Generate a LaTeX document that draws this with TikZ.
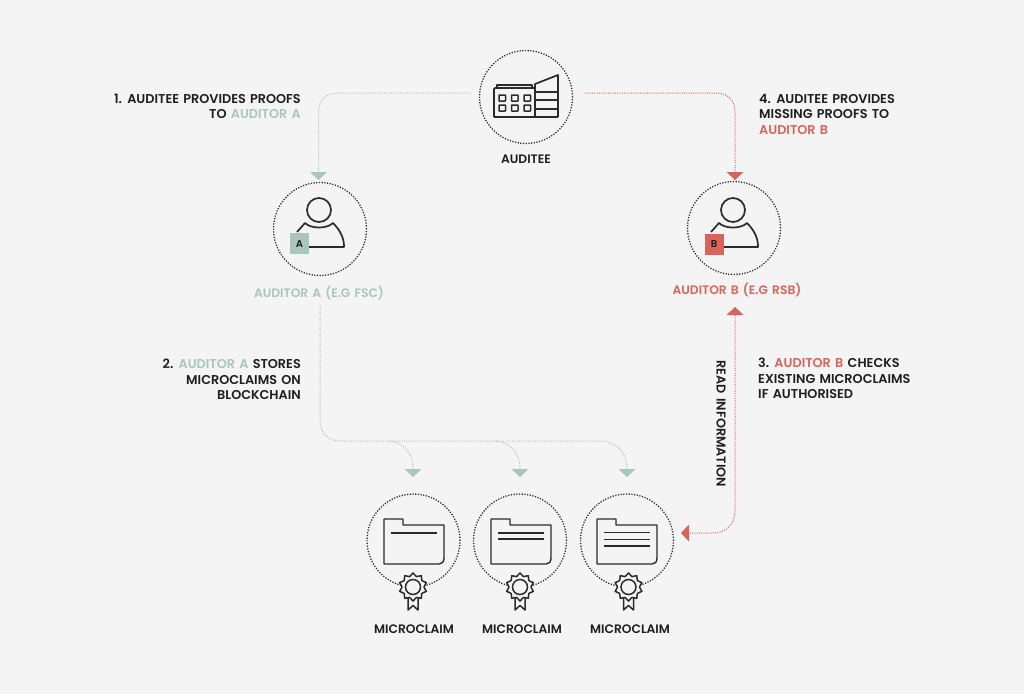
\documentclass[tikz,border=0pt]{standalone}
\usepackage{fontspec}
\setmainfont{Poppins}[UprightFont=* SemiBold,BoldFont=* SemiBold,WordSpace=1.4]
\usetikzlibrary{arrows.meta,shapes.geometric}
\definecolor{bgc}{HTML}{F4F4F4}
\definecolor{ink}{HTML}{1E1E1E}
\definecolor{icon}{HTML}{2B2B2B}
\definecolor{sage}{HTML}{A9C6BC}
\definecolor{coral}{HTML}{D9645A}
\newcommand{\ga}[1]{\textcolor{sage}{#1}}
\newcommand{\ra}[1]{\textcolor{coral}{#1}}
\tikzset{
  ring/.style={circle,draw=icon,line width=1.3pt,dash pattern=on 1.2pt off 1.5pt,minimum size=93pt,inner sep=0pt},
  lbl/.style={font=\fontsize{12.3}{15.4}\selectfont,text=ink,inner sep=0pt},
  stmt/.style={font=\fontsize{12.8}{15.4}\selectfont,text=ink,inner sep=0pt},
  ico/.style={draw=icon,line width=1.7pt,line join=round},
  tipS/.style={-{Triangle[width=17pt,length=8pt,fill=sage,line width=0pt]}},
  tipC/.style={-{Triangle[width=17pt,length=8pt,fill=coral,line width=0pt]}},
  gflow/.style={draw=sage,line width=1pt,dash pattern=on 1pt off 1.3pt},
  cflow/.style={draw=coral,line width=1pt,dash pattern=on 1pt off 1.3pt},
  tagbox/.style={minimum width=19pt,minimum height=21pt,inner sep=0pt,font=\fontsize{10}{10}\bfseries\selectfont,text=ink},
  seal/.style={star,star points=10,star point ratio=1.28,minimum size=28pt,inner sep=0pt,fill=bgc,draw=icon,line width=1.5pt,line join=round},
  sealin/.style={circle,minimum size=15pt,inner sep=0pt,draw=icon,line width=1.5pt,fill=bgc},
  pics/person/.style={code={
    \draw[ico] (0,-19) circle (12);
    \draw[ico] (-22,3) -- (-14,-6) .. controls (-8,0) and (8,0) .. (14,-6)
      .. controls (20,0) and (25,8) .. (25,17) -- (25,18) -- (-10,18);
  }},
  pics/folder/.style={code={
    \draw[ico,line width=1.4pt] (-30,-22) -- (-11,-22) -- (-11,-16) -- (30,-16) -- (30,17)
      .. controls (30,21) and (28,23) .. (25,23) -- (-30,23) -- cycle;
  }},
  pics/ribbon/.style={code={
    \draw[ico,line width=1.5pt,fill=bgc] (-5,9) -- (-5,23) -- (0,18.5) -- (5,23) -- (5,9);
  }},
}
\begin{document}
\begin{tikzpicture}[x=1pt,y=-1pt]
\useasboundingbox[fill=bgc] (0,0) rectangle (1024,694);

% rings
\node[ring] (auditee) at (526,97) {};
\node[ring] (audA) at (320,229) {};
\node[ring] (audB) at (734,228) {};
\node[ring] (m1) at (413.5,540.5) {};
\node[ring] (m2) at (520,540.5) {};
\node[ring] (m3) at (627,540.5) {};

% building
\draw[ico,rounded corners=1pt] (494,117) -- (494,88) -- (535,88);
\draw[ico] (497,88) -- (497,85) -- (532,85) -- (532,88);
\draw[ico,rounded corners=1pt] (494,117) -- (558,117);
\draw[ico] (535,117) -- (535,84) -- (558,75) -- (558,117);
\draw[ico] (535,92) -- (558,92) (535,100) -- (558,100) (535,109) -- (558,109);
\foreach \wx in {499,511.5,524}\foreach \wy in {95,105}
  \draw[ico,line width=1.5pt,rounded corners=0.5pt] (\wx,\wy) rectangle ++(6.5,6);

% persons
\pic at (319,229) {person};
\pic at (733,229) {person};
\node[tagbox,fill=sage] (tagA) at (299.5,243.5) {A};
\node[tagbox,fill=coral] (tagB) at (714,244) {B};

% folders
\pic at (414,541) {folder};
\pic at (521,541) {folder};
\pic at (627,541) {folder};
\draw[ico,line width=1.4pt] (391,533) -- (437,533);
\draw[ico,line width=1.4pt] (498,533) -- (544,533) (498,539) -- (544,539);
\draw[ico,line width=1.4pt] (604,532.5) -- (650,532.5) (604,539.5) -- (650,539.5) (604,546) -- (650,546);

% seals
\foreach \sx/\nm in {413/s1,520/s2,628.5/s3}{
  \pic at (\sx,587) {ribbon};
  \node[seal] (\nm) at (\sx,587) {};
  \node[sealin] (\nm in) at (\sx,587) {};
}

% connector ends
\coordinate (gs) at (470,93);
\coordinate (gt) at (318.5,180);
\coordinate (rs) at (585,93);
\coordinate (rt) at (735,180);
\coordinate (as) at (320,305);
\coordinate (t1) at (413,477);
\coordinate (t2) at (520,477);
\coordinate (t3) at (627,477);
\coordinate (b1) at (388,441);
\coordinate (b2) at (494,441);
\coordinate (bend) at (320,420);
\coordinate (ru) at (735,307);
\coordinate (rl) at (681,533);

\draw[gflow,tipS] (gs) -- (340,93) .. controls (326,93) and (318.5,100) .. (318.5,112) -- (gt);
\draw[cflow,tipC] (rs) -- (715,93) .. controls (728,93) and (735,100) .. (735,112) -- (rt);
\draw[gflow,tipS] (as) -- (bend) .. controls (320,434) and (328,441) .. (342,441) -- (600,441)
   .. controls (616,441) and (627,452) .. (t3);
\draw[gflow,tipS] (b1) .. controls (402,441) and (413,452) .. (t1);
\draw[gflow,tipS] (b2) .. controls (509,441) and (520,452) .. (t2);
\draw[cflow,{Triangle[width=17pt,length=8pt,fill=coral,line width=0pt]}-{Triangle[width=17pt,length=8pt,fill=coral,line width=0pt]}]
  (ru) -- (735,510) .. controls (735,525) and (726,533) .. (712,533) -- (rl);

% labels
\node[lbl,anchor=north] (lbAud) at (526,155) {AUDITEE};
\node[lbl,anchor=north] (lbA) at (319,286) {\ga{AUDITOR A (E.G FSC)}};
\node[lbl,anchor=north] (lbB) at (737,283) {\ra{AUDITOR B (E.G RSB)}};
\node[lbl,anchor=north] (lbM1) at (414,625) {MICROCLAIM};
\node[lbl,anchor=north] (lbM2) at (522,625) {MICROCLAIM};
\node[lbl,anchor=north] (lbM3) at (630,625) {MICROCLAIM};
\node[stmt,align=right,anchor=north east] (st1) at (301,94) {1. AUDITEE PROVIDES PROOFS\\TO \ga{AUDITOR A}};
\node[stmt,align=left,anchor=north west] (st4) at (759,94) {4. AUDITEE PROVIDES\\MISSING PROOFS TO\\\ra{AUDITOR B}};
\node[stmt,align=right,anchor=north east] (st2) at (301,359) {2. \ga{AUDITOR A} STORES\\MICROCLAIMS ON\\BLOCKCHAIN};
\node[stmt,align=left,anchor=north west] (st3) at (758,358) {3. \ra{AUDITOR B} CHECKS\\EXISTING MICROCLAIMS\\IF AUTHORISED};
\node[stmt,rotate=-90] (rd) at (721,424) {READ INFORMATION};
\end{tikzpicture}
\end{document}
